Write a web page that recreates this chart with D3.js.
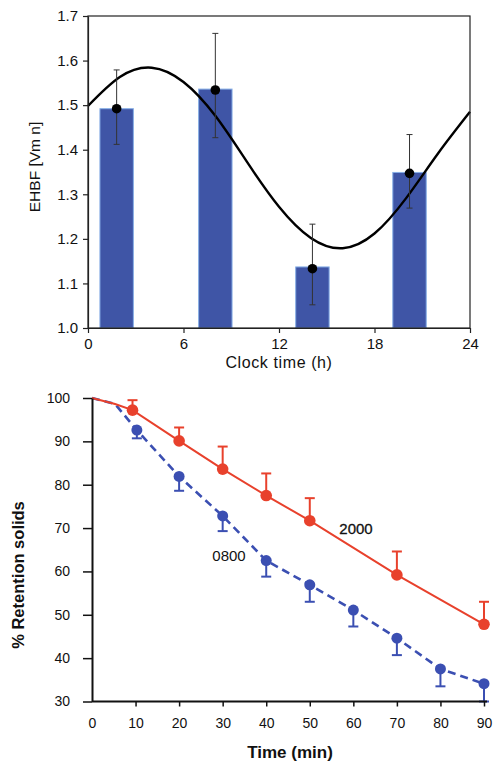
<!DOCTYPE html>
<html>
<head>
<meta charset="utf-8">
<script src="https://cdn.jsdelivr.net/npm/d3@7"></script>
<style>
  body { margin: 0; background: #fff; }
  svg { display: block; font-family: 'Liberation Sans', Arial, sans-serif; }
</style>
</head>
<body>
<div id="chart"></div>
<script>
// top panel: EHBF by clock time
const clockTicks = [0, 6, 12, 18, 24]
const ehbfTicks = [1.0, 1.1, 1.2, 1.3, 1.4, 1.5, 1.6, 1.7]
const barHours = [1.8, 8.0, 14.1, 20.2]
const barValues = [1.492, 1.536, 1.137, 1.349]
const dotValues = [1.492, 1.534, 1.133, 1.347]
const errLow = [1.412, 1.427, 1.052, 1.269]
const errHigh = [1.579, 1.661, 1.233, 1.434]
const fitHours = [0, 2, 4, 6, 8, 10, 12, 14, 16, 18, 20, 22, 24]
const fitValues = [1.498, 1.563, 1.584, 1.552, 1.476, 1.372, 1.272, 1.202, 1.179, 1.212, 1.292, 1.392, 1.485]

// bottom panel: retention of solids
const timeTicks = [0, 10, 20, 30, 40, 50, 60, 70, 80, 90]
const retentionTicks = [30, 40, 50, 60, 70, 80, 90, 100]
const eveTimes = [9.3, 20, 30, 40, 50, 70, 90]
const eveValues = [97.2, 90.1, 83.6, 77.5, 71.7, 59.2, 47.8]
const eveUpper = [99.5, 93.2, 88.8, 82.6, 76.9, 64.6, 53.0]
const mornTimes = [10.3, 20, 30, 40, 50, 60, 70, 80, 90]
const mornValues = [92.6, 81.9, 72.8, 62.5, 56.9, 51.1, 44.6, 37.5, 34.1]
const mornLower = [90.7, 78.6, 69.3, 58.8, 53.0, 47.3, 40.7, 33.5, 30.0]
const startTimes = [0, 5.3]
const startValues = [100, 98.6]

const svg = d3.select('#chart')
  .append('svg')
  .attr('width', 493)
  .attr('height', 761)

// ---------- top ----------
const x1 = d3.scaleLinear().domain([0, 24]).range([88, 470])
const y1 = d3.scaleLinear().domain([1.0, 1.7]).range([328, 16])
const barW = x1(2.1) - x1(0)

const upper = svg.append('g')

upper.selectAll('.bar')
  .data(barHours)
  .enter()
  .append('rect')
  .attr('x', (d) => x1(d) - barW / 2)
  .attr('y', (d, i) => y1(barValues[i]))
  .attr('width', barW)
  .attr('height', (d, i) => y1(1.0) - y1(barValues[i]))
  .attr('fill', '#3f55a6')
  .attr('stroke', '#86aee6')
  .attr('stroke-width', 1)

const fitLine = d3.line()
  .x((d) => x1(d))
  .y((d, i) => y1(fitValues[i]))
  .curve(d3.curveNatural)

upper.append('path')
  .datum(fitHours)
  .attr('d', fitLine)
  .attr('fill', 'none')
  .attr('stroke', '#000')
  .attr('stroke-width', 2.4)

barHours.forEach((h, i) => {
  const g = upper.append('g').attr('stroke', '#333').attr('stroke-width', 1)
  g.append('line').attr('x1', x1(h)).attr('x2', x1(h)).attr('y1', y1(errLow[i])).attr('y2', y1(errHigh[i]))
  g.append('line').attr('x1', x1(h) - 3).attr('x2', x1(h) + 3).attr('y1', y1(errLow[i])).attr('y2', y1(errLow[i]))
  g.append('line').attr('x1', x1(h) - 3).attr('x2', x1(h) + 3).attr('y1', y1(errHigh[i])).attr('y2', y1(errHigh[i]))
})

upper.selectAll('.dot')
  .data(barHours)
  .enter()
  .append('circle')
  .attr('cx', (d) => x1(d))
  .attr('cy', (d, i) => y1(dotValues[i]))
  .attr('r', 4.8)
  .attr('fill', '#000')

// frame
upper.append('rect')
  .attr('x', x1(0)).attr('y', y1(1.7))
  .attr('width', x1(24) - x1(0)).attr('height', y1(1.0) - y1(1.7))
  .attr('fill', 'none').attr('stroke', '#222').attr('stroke-width', 1.2)

const xAxis1 = upper.append('g')
  .attr('transform', `translate(0, ${y1(1.0)})`)
  .call(d3.axisBottom(x1).tickValues(clockTicks).tickSize(5).tickPadding(5).tickSizeOuter(0))
const yAxis1 = upper.append('g')
  .attr('transform', `translate(${x1(0)}, 0)`)
  .call(d3.axisLeft(y1).tickValues(ehbfTicks).tickFormat(d3.format('.1f')).tickSize(5).tickPadding(5).tickSizeOuter(0))

;[xAxis1, yAxis1].forEach((a) => {
  a.select('.domain').attr('stroke', '#222').attr('stroke-width', 1.2)
  a.selectAll('.tick line').attr('stroke', '#222').attr('stroke-width', 1.2)
  a.selectAll('.tick text').attr('fill', '#111').attr('font-size', 15)
    .attr('font-family', "'Liberation Sans', Arial, sans-serif")
})

upper.append('text')
  .attr('x', 279).attr('y', 368)
  .attr('text-anchor', 'middle')
  .attr('font-size', 16)
  .attr('letter-spacing', 0.6)
  .attr('fill', '#111')
  .text('Clock time (h)')

upper.append('text')
  .attr('transform', 'translate(40, 167) rotate(-90)')
  .attr('text-anchor', 'middle')
  .attr('font-size', 15.5)
  .attr('fill', '#111')
  .text('EHBF [Vm n]')

// ---------- bottom ----------
const x2 = d3.scaleLinear().domain([0, 90]).range([92, 484])
const y2 = d3.scaleLinear().domain([30, 100]).range([701.5, 398])
const red = '#e8412c'
const blue = '#3b4fb2'

const lower = svg.append('g')

const retLine = (xs, ys) => d3.line()
  .x((d, i) => x2(xs[i]))
  .y((d, i) => y2(ys[i]))(xs)

// morning (0800) dashed
lower.append('path')
  .attr('d', retLine(startTimes.concat(mornTimes), startValues.concat(mornValues)))
  .attr('fill', 'none')
  .attr('stroke', blue)
  .attr('stroke-width', 2.6)
  .attr('stroke-dasharray', '8,5')

// evening (2000) solid
lower.append('path')
  .attr('d', retLine(startTimes.concat(eveTimes), startValues.concat(eveValues)))
  .attr('fill', 'none')
  .attr('stroke', red)
  .attr('stroke-width', 2)

mornTimes.forEach((t, i) => {
  const g = lower.append('g').attr('stroke', blue).attr('stroke-width', 2)
  g.append('line').attr('x1', x2(t)).attr('x2', x2(t)).attr('y1', y2(mornValues[i])).attr('y2', y2(mornLower[i]))
  g.append('line').attr('x1', x2(t) - 5).attr('x2', x2(t) + 5).attr('y1', y2(mornLower[i])).attr('y2', y2(mornLower[i]))
})
eveTimes.forEach((t, i) => {
  const g = lower.append('g').attr('stroke', red).attr('stroke-width', 2)
  g.append('line').attr('x1', x2(t)).attr('x2', x2(t)).attr('y1', y2(eveValues[i])).attr('y2', y2(eveUpper[i]))
  g.append('line').attr('x1', x2(t) - 5).attr('x2', x2(t) + 5).attr('y1', y2(eveUpper[i])).attr('y2', y2(eveUpper[i]))
})

lower.selectAll('.morn')
  .data(mornTimes)
  .enter()
  .append('circle')
  .attr('cx', (d) => x2(d))
  .attr('cy', (d, i) => y2(mornValues[i]))
  .attr('r', 5.5)
  .attr('fill', blue)

lower.selectAll('.eve')
  .data(eveTimes)
  .enter()
  .append('circle')
  .attr('cx', (d) => x2(d))
  .attr('cy', (d, i) => y2(eveValues[i]))
  .attr('r', 5.8)
  .attr('fill', red)

const xAxis2 = lower.append('g')
  .attr('transform', `translate(0, ${y2(30)})`)
  .call(d3.axisBottom(x2).tickValues(timeTicks).tickSize(5).tickPadding(12).tickSizeOuter(0))
const yAxis2 = lower.append('g')
  .attr('transform', `translate(${x2(0)}, 0)`)
  .call(d3.axisLeft(y2).tickValues(retentionTicks).tickSize(9).tickPadding(13).tickSizeOuter(0))

xAxis2.select('.domain').attr('d', `M${x2(0)},0H${x2(90) + 3}`)
;[xAxis2, yAxis2].forEach((a) => {
  a.select('.domain').attr('stroke', '#111').attr('stroke-width', 2)
  a.selectAll('.tick line').attr('stroke', '#111').attr('stroke-width', 1.5)
  a.selectAll('.tick text').attr('fill', '#111').attr('font-size', 14)
    .attr('font-family', "'Liberation Sans', Arial, sans-serif")
})
xAxis2.selectAll('.tick').filter((d) => d === 0).select('line').remove()

lower.append('text')
  .attr('x', 356).attr('y', 534)
  .attr('text-anchor', 'middle')
  .attr('font-size', 15)
  .attr('fill', '#111')
  .attr('stroke', '#111')
  .attr('stroke-width', 0.3)
  .text('2000')

lower.append('text')
  .attr('x', 229).attr('y', 560.5)
  .attr('text-anchor', 'middle')
  .attr('font-size', 15)
  .attr('fill', '#111')
  .text('0800')

lower.append('text')
  .attr('x', 290).attr('y', 758)
  .attr('text-anchor', 'middle')
  .attr('font-size', 17)
  .attr('font-weight', 'bold')
  .attr('fill', '#111')
  .text('Time (min)')

lower.append('text')
  .attr('transform', 'translate(24, 575) rotate(-90)')
  .attr('text-anchor', 'middle')
  .attr('font-size', 16.5)
  .attr('font-weight', 'bold')
  .attr('fill', '#111')
  .text('% Retention solids')
</script>
</body>
</html>
